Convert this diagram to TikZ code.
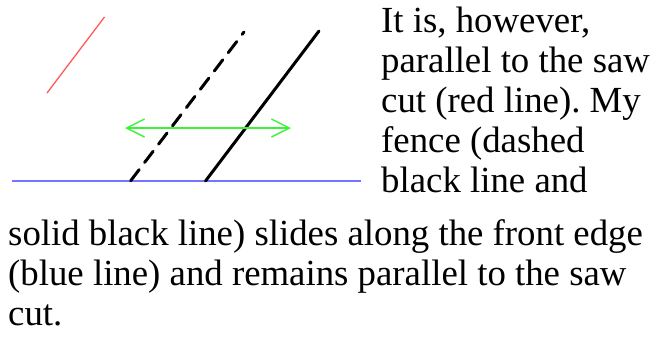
\documentclass[tikz,border=0pt]{standalone}
\usepackage{fontspec}
\newfontfamily\proseface{Liberation Serif}
\usetikzlibrary{arrows.meta}
\definecolor{sawred}{HTML}{FF5A5A}
\definecolor{edgeblue}{HTML}{7474FF}
\definecolor{slidegreen}{HTML}{3CF03C}
\frenchspacing

\begin{document}
\begin{tikzpicture}[x=1pt, y=-1pt,
  prose/.style={anchor=base west, inner sep=0pt, font=\proseface\fontsize{36.8}{40}\selectfont}]

% Canvas -- pixel coordinates, y grows downward
\useasboundingbox (0,0) rectangle (665,338);

% Saw cut (red line)
\coordinate (cutlow) at (47,93);
\coordinate (cuthigh) at (104.5,17);
\draw[sawred, line width=1.3pt] (cutlow) -- (cuthigh);

% Front edge (blue line)
\coordinate (edgeleft) at (12,181);
\coordinate (edgeright) at (361,181);
\draw[edgeblue, line width=1.5pt] (edgeleft) -- (edgeright);

% Fence, dashed position
\coordinate (dashtop) at (244,32);
\coordinate (dashfoot) at (130.5,181);
\draw[black, line width=3pt, line cap=round, dash pattern=on 14pt off 9pt, dash phase=11pt]
  (dashtop) -- (dashfoot);

% Fence, solid position
\coordinate (solidtop) at (319,31);
\coordinate (solidfoot) at (205.5,181);
\draw[black, line width=3pt, line cap=round] (solidtop) -- (solidfoot);

% Sliding direction (green arrow)
\coordinate (slideleft) at (125,128);
\coordinate (slideright) at (291,128);
\draw[slidegreen, line width=1.4pt,
  {Straight Barb[length=18pt, width=18pt]}-{Straight Barb[length=18pt, width=18pt]}]
  (slideleft) -- (slideright);

% Text wrapped round the figure
\node[prose] (l1) at (381,32) {It is, however,};
\node[prose] (l2) at (381,72) {parallel to the saw};
\node[prose] (l3) at (381,112) {cut (red line). My};
\node[prose] (l4) at (381,152) {fence (dashed};
\node[prose] (l5) at (381,192) {black line and};
\node[prose] (l6) at (8,245) {solid black line) slides along the front edge};
\node[prose] (l7) at (8,285) {(blue line) and remains parallel to the saw};
\node[prose] (l8) at (8,325) {cut.};

\end{tikzpicture}
\end{document}
